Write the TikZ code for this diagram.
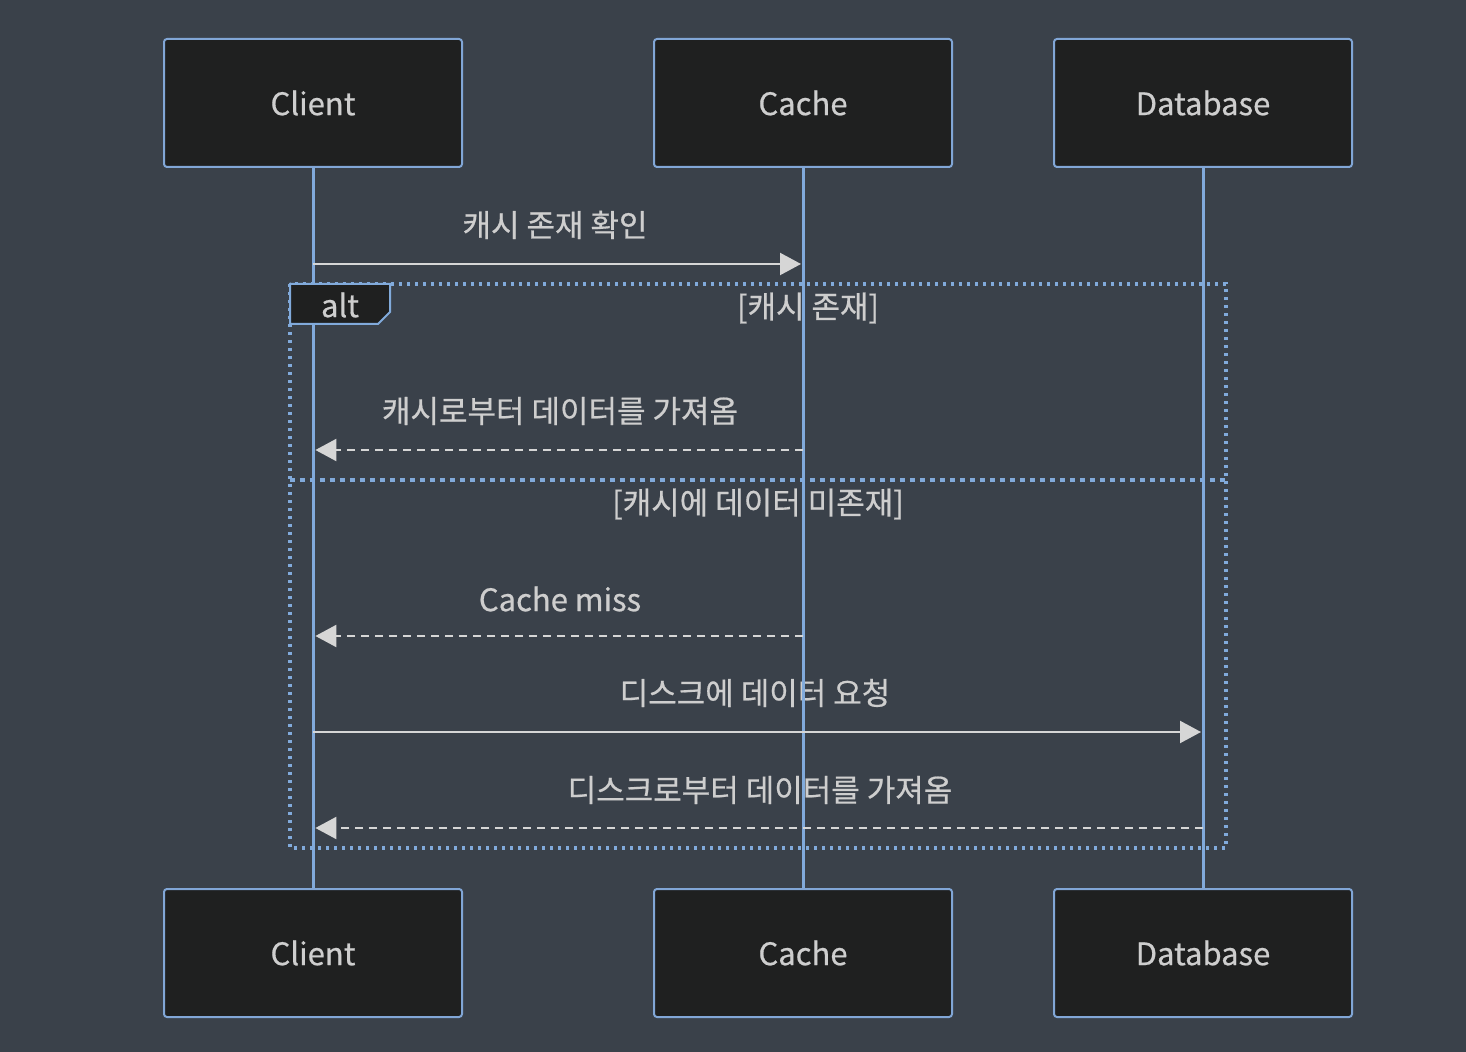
\documentclass[tikz,border=0pt]{standalone}
\usepackage{fontspec}
\setmainfont{Noto Sans CJK KR}[FakeBold=0.6]
\usetikzlibrary{arrows.meta, calc, positioning}
\definecolor{seqbg}{RGB}{58,65,74}
\definecolor{actorfill}{RGB}{31,32,32}
\definecolor{actorline}{RGB}{129,166,214}
\definecolor{lifeblue}{RGB}{129,170,219}
\definecolor{msgtext}{RGB}{206,206,206}
\definecolor{msgline}{RGB}{214,214,214}

\begin{document}
\begin{tikzpicture}[
    x=0.5pt, y=-0.5pt,
    font=\fontsize{15.5}{18}\selectfont,
    actor/.style   = {rectangle, draw=actorline, fill=actorfill, line width=1pt,
                      rounded corners=1.5pt, minimum width=149pt, minimum height=64pt,
                      text=msgtext},
    life/.style    = {draw=lifeblue, line width=1.5pt},
    lbl/.style     = {text=msgtext, inner sep=1pt},
    sync/.style    = {-{Triangle[length=10.5pt,width=11pt]}, msgline, line width=1.1pt},
    reply/.style   = {sync, dash pattern=on 4pt off 3pt},
    altframe/.style= {draw=lifeblue, line width=1.6pt, dash pattern=on 1.6pt off 2.4pt},
    altsep/.style  = {draw=lifeblue, line width=1.6pt, dash pattern=on 2.5pt off 2.5pt},
    alttag/.style  = {draw=lifeblue, fill=actorfill, line width=1pt},
]
\fill[seqbg] (0,0) rectangle (1466,1052);

% ---- participants (top and bottom) ------------------------------------------
\node[actor] (clientTop) at (313,103) {Client};
\node[actor] (cacheTop)  at (803,103) {Cache};
\node[actor] (dbTop)     at (1203,103) {Database};
\node[actor] (clientBot) at (313,953) {Client};
\node[actor] (cacheBot)  at (803,953) {Cache};
\node[actor] (dbBot)     at (1203,953) {Database};

% ---- alt frame --------------------------------------------------------------
\coordinate (frameNW) at (290,284);
\coordinate (frameSE) at (1226,848);
\draw[altframe] (frameNW) rectangle (frameSE);
\draw[altsep] (290,480) -- (1226,480);
\node[lbl] (guardHit)  at (808,308) {[캐시 존재]};
\node[lbl] (guardMiss) at (758,504) {[캐시에 데이터 미존재]};

% ---- message labels ---------------------------------------------------------
\node[lbl] (m1) at (555,225) {캐시 존재 확인};
\node[lbl] (m2) at (560,411) {캐시로부터 데이터를 가져옴};
\node[lbl] (m3) at (560,599) {Cache miss};
\node[lbl] (m4) at (755,693) {디스크에 데이터 요청};
\node[lbl] (m5) at (760,790) {디스크로부터 데이터를 가져옴};

% ---- lifelines --------------------------------------------------------------
\draw[life] (clientTop.south) -- (clientBot.north);
\draw[life] (cacheTop.south) -- (cacheBot.north);
\draw[life] (dbTop.south) -- (dbBot.north);

% ---- alt tag ----------------------------------------------------------------
\draw[alttag] (frameNW) -- ++(100,0) -- ++(0,28) -- ++(-12,12) -- ++(-88,0) -- cycle;
\node[lbl] (altlbl) at (340,305) {alt};

% ---- messages ---------------------------------------------------------------
\coordinate (c1) at (clientTop |- 0,264);  \coordinate (k1) at (cacheTop |- 0,264);
\coordinate (c2) at (clientTop |- 0,450);  \coordinate (k2) at (cacheTop |- 0,450);
\coordinate (c3) at (clientTop |- 0,636);  \coordinate (k3) at (cacheTop |- 0,636);
\coordinate (c4) at (clientTop |- 0,732);  \coordinate (d4) at (dbTop |- 0,732);
\coordinate (c5) at (clientTop |- 0,828);  \coordinate (d5) at (dbTop |- 0,828);

\draw[sync, shorten >=1pt] (c1) -- (k1);
\draw[reply, shorten >=1.2pt] (k2) -- (c2);
\draw[reply, shorten >=1.2pt] (k3) -- (c3);
\draw[sync, shorten >=1pt] (c4) -- (d4);
\draw[reply, shorten >=1.2pt] (d5) -- (c5);
\end{tikzpicture}
\end{document}
